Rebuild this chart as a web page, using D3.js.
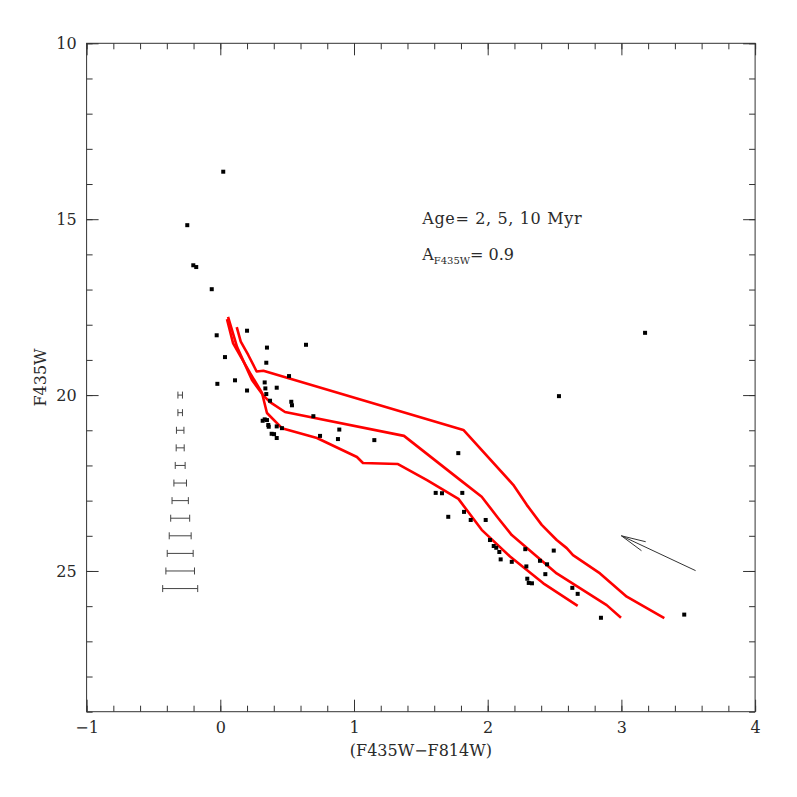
<!DOCTYPE html>
<html>
<head>
<meta charset="utf-8">
<script src="https://cdn.jsdelivr.net/npm/d3@7"></script>
<style>
  body { margin: 0; background: #fff; }
  svg text { font-family: "DejaVu Serif", "Liberation Serif", serif; fill: #2a2a2a; }
</style>
</head>
<body>
<svg id="chart" width="797" height="797"></svg>
<script>
// colour (F435W-F814W) and magnitude F435W of the stars
const starColor = [0.022, -0.247, -0.202, -0.180, -0.064, -0.027, 0.200, 0.641, 0.349, 0.035,
  0.344, 0.514, -0.022, 0.110, 0.200, 0.332, 0.337, 0.422, 0.344, 0.372,
  0.531, 0.536, 0.696, 0.317, 0.332, 0.349, 0.359, 0.362, 0.422, 0.461,
  0.384, 0.402, 0.422, 0.746, 0.890, 0.880, 1.152, 1.780, 2.533, 3.177,
  1.611, 1.658, 1.810, 1.705, 1.823, 1.873, 1.985, 2.017, 2.045, 2.064,
  2.087, 2.097, 2.180, 2.281, 2.494, 2.289, 2.391, 2.444, 2.431, 2.296,
  2.307, 2.331, 2.633, 2.673, 2.847, 3.470];
const starMag = [13.65, 15.17, 16.31, 16.36, 16.99, 18.30, 18.17, 18.57, 18.65, 18.92,
  19.08, 19.46, 19.68, 19.58, 19.87, 19.64, 19.81, 19.79, 19.97, 20.16,
  20.19, 20.29, 20.60, 20.73, 20.69, 20.71, 20.85, 20.90, 20.89, 20.94,
  21.10, 21.11, 21.22, 21.16, 20.98, 21.25, 21.28, 21.65, 20.03, 18.23,
  22.78, 22.79, 22.78, 23.46, 23.32, 23.55, 23.55, 24.12, 24.29, 24.34,
  24.46, 24.67, 24.74, 24.38, 24.42, 24.87, 24.71, 24.81, 25.09, 25.22,
  25.34, 25.35, 25.48, 25.65, 26.33, 26.24];

// isochrones
const iso10Color = [0.123, 0.153, 0.209, 0.272, 0.322, 1.818, 2.191, 2.292, 2.404, 2.516, 2.591, 2.638, 2.840, 3.040, 3.321];
const iso10Mag   = [18.07, 18.48, 18.86, 19.33, 19.31, 20.99, 22.55, 23.12, 23.69, 24.12, 24.35, 24.55, 25.07, 25.73, 26.34];
const iso5Color  = [0.058, 0.125, 0.237, 0.319, 0.372, 0.484, 1.374, 1.793, 1.955, 2.079, 2.180, 2.516, 2.890, 2.997];
const iso5Mag    = [17.78, 18.63, 19.57, 20.00, 20.20, 20.48, 21.16, 22.41, 22.89, 23.50, 23.98, 25.07, 25.97, 26.33];
const iso2Color  = [0.050, 0.095, 0.222, 0.312, 0.349, 0.461, 0.723, 1.022, 1.067, 1.329, 1.546, 1.781, 1.955, 2.167, 2.416, 2.673];
const iso2Mag    = [17.84, 18.52, 19.37, 19.94, 20.51, 20.94, 21.22, 21.76, 21.93, 21.96, 22.42, 22.95, 23.83, 24.59, 25.35, 25.99];

// photometric error bars
const errMag = [20, 20.5, 21, 21.5, 22, 22.5, 23, 23.5, 24, 24.5, 25, 25.5];
const errHalf = [0.017, 0.017, 0.028, 0.030, 0.037, 0.047, 0.061, 0.071, 0.082, 0.097, 0.107, 0.131];
const errX = -0.30;

// reddening vector
const arrowFrom = [3.555, 24.99];
const arrowTo = [3.0, 24.0];

const xTicks = [-1, 0, 1, 2, 3, 4];
const yTicks = [10, 15, 20, 25];

const svg = d3.select("#chart");
const mLeft = 86.6, mRight = 755.1, mTop = 43.3, mBottom = 711.7;
const fontFam = '"DejaVu Serif", "Liberation Serif", serif';

const x = d3.scaleLinear().domain([-1, 4]).range([mLeft, mRight]);
const y = d3.scaleLinear().domain([10, 29]).range([mTop, mBottom]);

const fmt = d => d < 0 ? "\u2212" + Math.abs(d) : String(d);

// frame and ticks on all four sides, pointing inward
const axisColor = "#333";
function ticks(axis) {
  axis.attr("font-family", fontFam);
  axis.selectAll("path").remove();
  axis.selectAll("line").attr("stroke", axisColor);
  axis.selectAll("text").attr("font-size", 16).attr("fill", "#2a2a2a");
}
svg.append("g").attr("transform", `translate(0,${mBottom})`)
  .call(d3.axisBottom(x).tickValues(d3.range(-1, 4.001, 0.2)).tickSize(-6).tickFormat(""))
  .call(ticks);
svg.append("g").attr("transform", `translate(0,${mBottom})`)
  .call(d3.axisBottom(x).tickValues(xTicks).tickSize(-12).tickFormat(fmt).tickPadding(10))
  .call(ticks);
svg.append("g").attr("transform", `translate(0,${mTop})`)
  .call(d3.axisTop(x).tickValues(d3.range(-1, 4.001, 0.2)).tickSize(-6).tickFormat(""))
  .call(ticks);
svg.append("g").attr("transform", `translate(0,${mTop})`)
  .call(d3.axisTop(x).tickValues(xTicks).tickSize(-12).tickFormat(""))
  .call(ticks);
svg.append("g").attr("transform", `translate(${mLeft},0)`)
  .call(d3.axisLeft(y).tickValues(d3.range(10, 29.001, 1)).tickSize(-6).tickFormat(""))
  .call(ticks);
svg.append("g").attr("transform", `translate(${mLeft},0)`)
  .call(d3.axisLeft(y).tickValues(yTicks).tickSize(-12).tickFormat(fmt).tickPadding(10))
  .call(ticks);
svg.append("g").attr("transform", `translate(${mRight},0)`)
  .call(d3.axisRight(y).tickValues(d3.range(10, 29.001, 1)).tickSize(-6).tickFormat(""))
  .call(ticks);
svg.append("g").attr("transform", `translate(${mRight},0)`)
  .call(d3.axisRight(y).tickValues(yTicks).tickSize(-12).tickFormat(""))
  .call(ticks);
svg.append("rect")
  .attr("x", mLeft).attr("y", mTop)
  .attr("width", mRight - mLeft).attr("height", mBottom - mTop)
  .attr("fill", "none").attr("stroke", axisColor).attr("stroke-width", 1);

// axis titles
svg.append("text")
  .attr("x", (mLeft + mRight) / 2).attr("y", 756)
  .attr("text-anchor", "middle").attr("font-size", 16)
  .text("(F435W\u2212F814W)");
svg.append("text")
  .attr("transform", `translate(46,${(mTop + mBottom) / 2}) rotate(-90)`)
  .attr("text-anchor", "middle").attr("font-size", 16)
  .text("F435W");

// isochrones
const line = d3.line().x(d => x(d[0])).y(d => y(d[1]));
[[iso10Color, iso10Mag], [iso5Color, iso5Mag], [iso2Color, iso2Mag]].forEach(([c, m]) => {
  svg.append("path")
    .datum(d3.zip(c, m))
    .attr("d", line)
    .attr("fill", "none")
    .attr("stroke", "#ff0000")
    .attr("stroke-width", 2.6)
    .attr("stroke-linejoin", "round");
});

// stars
svg.append("g").selectAll("rect")
  .data(d3.zip(starColor, starMag))
  .join("rect")
  .attr("x", d => x(d[0]) - 2)
  .attr("y", d => y(d[1]) - 2)
  .attr("width", 4).attr("height", 4)
  .attr("fill", "#000");

// error bars
const eb = svg.append("g").attr("stroke", "#444").attr("stroke-width", 1);
errMag.forEach((m, i) => {
  const x0 = x(errX - errHalf[i]), x1 = x(errX + errHalf[i]), yy = y(m);
  eb.append("line").attr("x1", x0).attr("x2", x1).attr("y1", yy).attr("y2", yy);
  eb.append("line").attr("x1", x0).attr("x2", x0).attr("y1", yy - 3.5).attr("y2", yy + 3.5);
  eb.append("line").attr("x1", x1).attr("x2", x1).attr("y1", yy - 3.5).attr("y2", yy + 3.5);
});

// reddening arrow
const ax0 = x(arrowFrom[0]), ay0 = y(arrowFrom[1]);
const ax1 = x(arrowTo[0]), ay1 = y(arrowTo[1]);
const ang = Math.atan2(ay0 - ay1, ax0 - ax1);
const ag = svg.append("g").attr("stroke", "#333").attr("stroke-width", 1).attr("fill", "none");
ag.append("line").attr("x1", ax0).attr("y1", ay0).attr("x2", ax1).attr("y2", ay1);
[-0.2, 0.2].forEach(da => {
  ag.append("line")
    .attr("x1", ax1).attr("y1", ay1)
    .attr("x2", ax1 + 25 * Math.cos(ang + da))
    .attr("y2", ay1 + 25 * Math.sin(ang + da));
});

// annotations
svg.append("text")
  .attr("x", x(1.51)).attr("y", y(15.15))
  .attr("font-size", 16).attr("letter-spacing", 0.65)
  .text("Age= 2, 5, 10 Myr");
const ann = svg.append("text")
  .attr("x", x(1.51)).attr("y", y(16.17))
  .attr("font-size", 16);
ann.append("tspan").text("A");
ann.append("tspan").attr("font-size", 10).attr("dy", 4).text("F435W");
ann.append("tspan").attr("dy", -4).text("= 0.9");
</script>
</body>
</html>
